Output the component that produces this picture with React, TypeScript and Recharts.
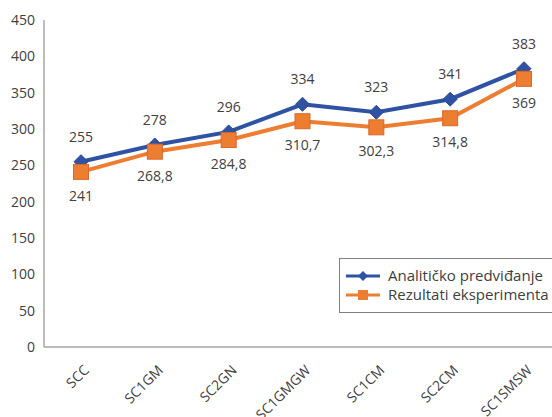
import React from 'react';
import { LineChart, Line, XAxis, YAxis, LabelList } from 'recharts';

const categories = ['SCC', 'SC1GM', 'SC2GN', 'SC1GMGW', 'SC1CM', 'SC2CM', 'SC1SMSW'];
const analiticko = [255, 278, 296, 334, 323, 341, 383];
const eksperiment = [241, 268.8, 284.8, 310.7, 302.3, 314.8, 369];
const yTicks = [0, 50, 100, 150, 200, 250, 300, 350, 400, 450];

const BLUE = '#2f52a3';
const ORANGE = '#ed7d31';
const TEXT = '#404040';
const FONT = '"Open Sans", sans-serif';

const data = categories.map((name, i) => ({
  name,
  analiticko: analiticko[i],
  eksperiment: eksperiment[i],
}));

const fmt = (v: number) => String(v).replace('.', ',');

const Diamond = (props: any) => {
  const { cx, cy } = props;
  if (cx == null || cy == null) return null;
  const r = 7;
  return (
    <path
      d={`M${cx},${cy - r} L${cx + r},${cy} L${cx},${cy + r} L${cx - r},${cy} Z`}
      fill={BLUE}
      stroke="#2a4890"
      strokeWidth={1}
    />
  );
};

const Square = (props: any) => {
  const { cx, cy } = props;
  if (cx == null || cy == null) return null;
  const s = 15;
  return (
    <rect x={cx - s / 2} y={cy - s / 2} width={s} height={s} fill={ORANGE} stroke="#d9682a" strokeWidth={1} />
  );
};

// rotated category labels, ending just right of the tick
const XTick = ({ x, y, payload }: any) => (
  <g transform={`translate(${x + 9},${y + 16})`}>
    <text textAnchor="end" transform="rotate(-45)" fill={TEXT} fontSize={14} fontFamily={FONT}>
      {payload.value}
    </text>
  </g>
);

const LegendBox = () => (
  <div
    style={{
      position: 'absolute',
      left: 339,
      top: 258,
      border: '1.5px solid #7f7f7f',
      background: '#fff',
      width: 230,
      height: 55,
      boxSizing: 'border-box',
      padding: '7px 0 0 5px',
      fontFamily: FONT,
      fontSize: 15,
      color: TEXT,
      lineHeight: '19px',
    }}
  >
    {[
      { label: 'Analitičko predviđanje', color: BLUE, kind: 'd' },
      { label: 'Rezultati eksperimenta', color: ORANGE, kind: 's' },
    ].map((e) => (
      <div key={e.label} style={{ display: 'flex', alignItems: 'center', whiteSpace: 'nowrap' }}>
        <svg width={36} height={14} style={{ marginRight: 7 }}>
          <line x1={1} y1={7} x2={35} y2={7} stroke={e.color} strokeWidth={3} />
          {e.kind === 'd' ? (
            <path d="M18,2 L23,7 L18,12 L13,7 Z" fill={e.color} />
          ) : (
            <rect x={13} y={2} width={10} height={10} fill={e.color} />
          )}
        </svg>
        <span>{e.label}</span>
      </div>
    ))}
  </div>
);

export default function App() {
  return (
    <div style={{ position: 'absolute', left: 0, top: 0, width: 552, height: 417, overflow: 'hidden', background: '#fff' }}>
      <LineChart
        width={572}
        height={417}
        data={data}
        margin={{ top: 20, right: 11, bottom: 0, left: 0 }}
        style={{ fontFamily: FONT }}
      >
        <XAxis
          dataKey="name"
          height={70}
          tickLine={false}
          axisLine={{ stroke: '#a6a6a6', strokeWidth: 1.5 }}
          tick={<XTick />}
          interval={0}
          padding={{ left: 37, right: 37 }}
        />
        <YAxis
          width={44}
          domain={[0, 450]}
          ticks={yTicks}
          tickLine={false}
          axisLine={{ stroke: '#a6a6a6', strokeWidth: 1.5 }}
          tick={{ fill: TEXT, fontSize: 14, fontFamily: FONT }}
          tickMargin={3}
          interval={0}
        />
        <Line
          dataKey="analiticko"
          stroke={BLUE}
          strokeWidth={4}
          dot={<Diamond />}
          activeDot={false}
          isAnimationActive={false}
        >
          <LabelList dataKey="analiticko" position="top" offset={20} fill={TEXT} fontSize={14} fontFamily={FONT} />
        </Line>
        <Line
          dataKey="eksperiment"
          stroke={ORANGE}
          strokeWidth={4}
          dot={<Square />}
          activeDot={false}
          isAnimationActive={false}
        >
          <LabelList
            dataKey="eksperiment"
            position="bottom"
            offset={19}
            fill={TEXT}
            fontSize={14}
            fontFamily={FONT}
            formatter={(v: any) => fmt(v)}
          />
        </Line>
      </LineChart>
      <LegendBox />
    </div>
  );
}
